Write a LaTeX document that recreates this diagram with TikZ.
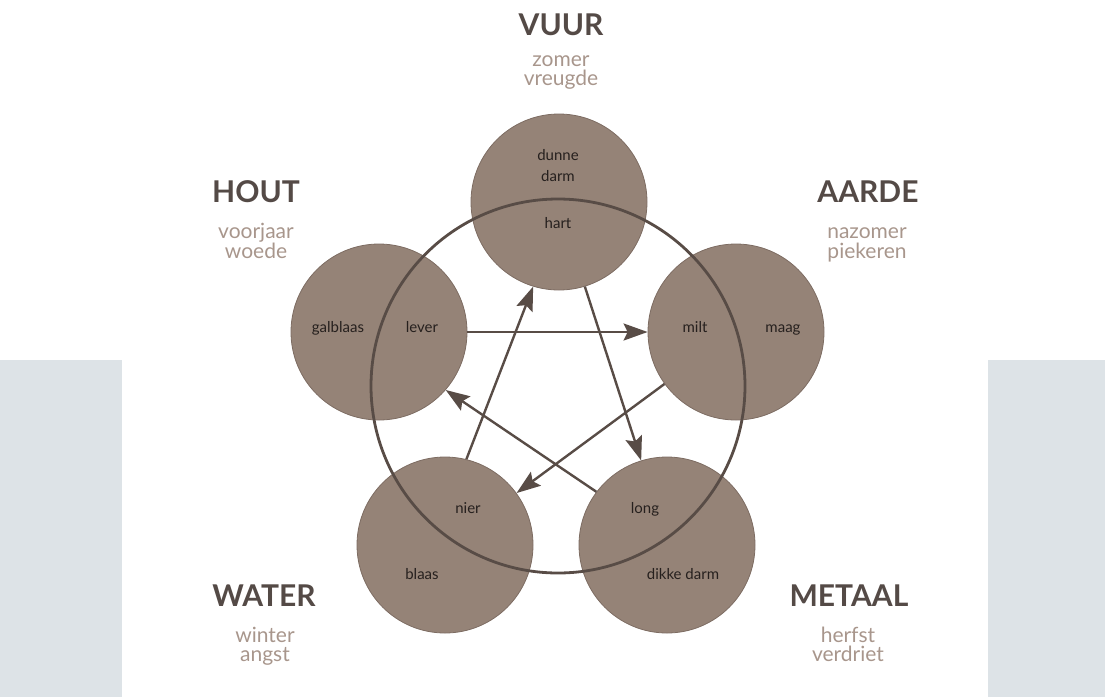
\documentclass[tikz,border=0pt]{standalone}
\usepackage{fontspec}
\setmainfont{Lato}
\usetikzlibrary{arrows.meta}
\definecolor{bgpanel}{RGB}{221,227,231}
\definecolor{organ}{RGB}{149,131,119}
\definecolor{organedge}{RGB}{125,108,98}
\definecolor{linec}{RGB}{88,76,70}
\definecolor{titlec}{RGB}{84,74,70}
\definecolor{subc}{RGB}{168,150,140}
\definecolor{textc}{RGB}{38,32,30}
\begin{document}
\begin{tikzpicture}[x=1pt,y=-1pt,
 element/.style={circle,fill=organ,draw=organedge,line width=0.8pt,minimum size=176pt,inner sep=0pt},
 organlbl/.style={text=textc,font=\fontsize{15}{16}\selectfont,anchor=base,inner sep=0pt},
 title/.style={text=titlec,font=\fontsize{30}{32}\selectfont\bfseries,anchor=base,inner sep=0pt},
 sub/.style={text=subc,font=\fontsize{21}{21}\selectfont,anchor=base,inner sep=0pt},
 flow/.style={draw=linec,line width=2.4pt,-{Stealth[length=24pt,width=17pt,inset=4pt]}}]
\useasboundingbox (0,0) rectangle (1105,697);
\fill[bgpanel] (0,360) rectangle (122,697);
\fill[bgpanel] (988,360) rectangle (1105,697);
% element circles
\node[element] (fire)  at (559,202) {};
\node[element] (wood)  at (379,332) {};
\node[element] (earth) at (736,332) {};
\node[element] (water) at (445,545) {};
\node[element] (metal) at (667,545) {};
% cycle
\node[circle,draw=linec,line width=2.8pt,minimum size=374pt,inner sep=0pt] (cycle) at (558,386) {};
% control arrows
\draw[flow] (wood.0) -- (earth.180);
\draw[flow] (fire.-73) -- (metal.107);
\draw[flow] (earth.216) -- (water.36);
\draw[flow] (metal.143) -- (wood.-41);
\draw[flow] (water.76) -- (fire.253);
% organ labels
\node[organlbl] (dunne) at (558,160) {dunne};
\node[organlbl] (darm) at (558,181) {darm};
\node[organlbl] (hart) at (558,228) {hart};
\node[organlbl] (galblaas) at (338,332) {galblaas};
\node[organlbl] (lever) at (422,332) {lever};
\node[organlbl] (milt) at (695,332) {milt};
\node[organlbl] (maag) at (783,332) {maag};
\node[organlbl] (nier) at (468,513) {nier};
\node[organlbl] (blaas) at (422,579) {blaas};
\node[organlbl] (long) at (645,513) {long};
\node[organlbl] (dikke) at (683,579) {dikke darm};
% titles
\node[title] (tvuur) at (561,35) {VUUR};
\node[sub] (s1a) at (561,66) {zomer};
\node[sub] (s1b) at (561,85) {vreugde};
\node[title] (thout) at (256,202) {HOUT};
\node[sub] (s2a) at (256,238) {voorjaar};
\node[sub] (s2b) at (256,258) {woede};
\node[title] (taarde) at (868,202) {AARDE};
\node[sub] (s3a) at (867,238) {nazomer};
\node[sub] (s3b) at (867,258) {piekeren};
\node[title] (twater) at (264,606) {WATER};
\node[sub] (s4a) at (265,642) {winter};
\node[sub] (s4b) at (265,661) {angst};
\node[title] (tmetaal) at (849,606) {METAAL};
\node[sub] (s5a) at (848,642) {herfst};
\node[sub] (s5b) at (848,661) {verdriet};
\end{tikzpicture}
\end{document}
